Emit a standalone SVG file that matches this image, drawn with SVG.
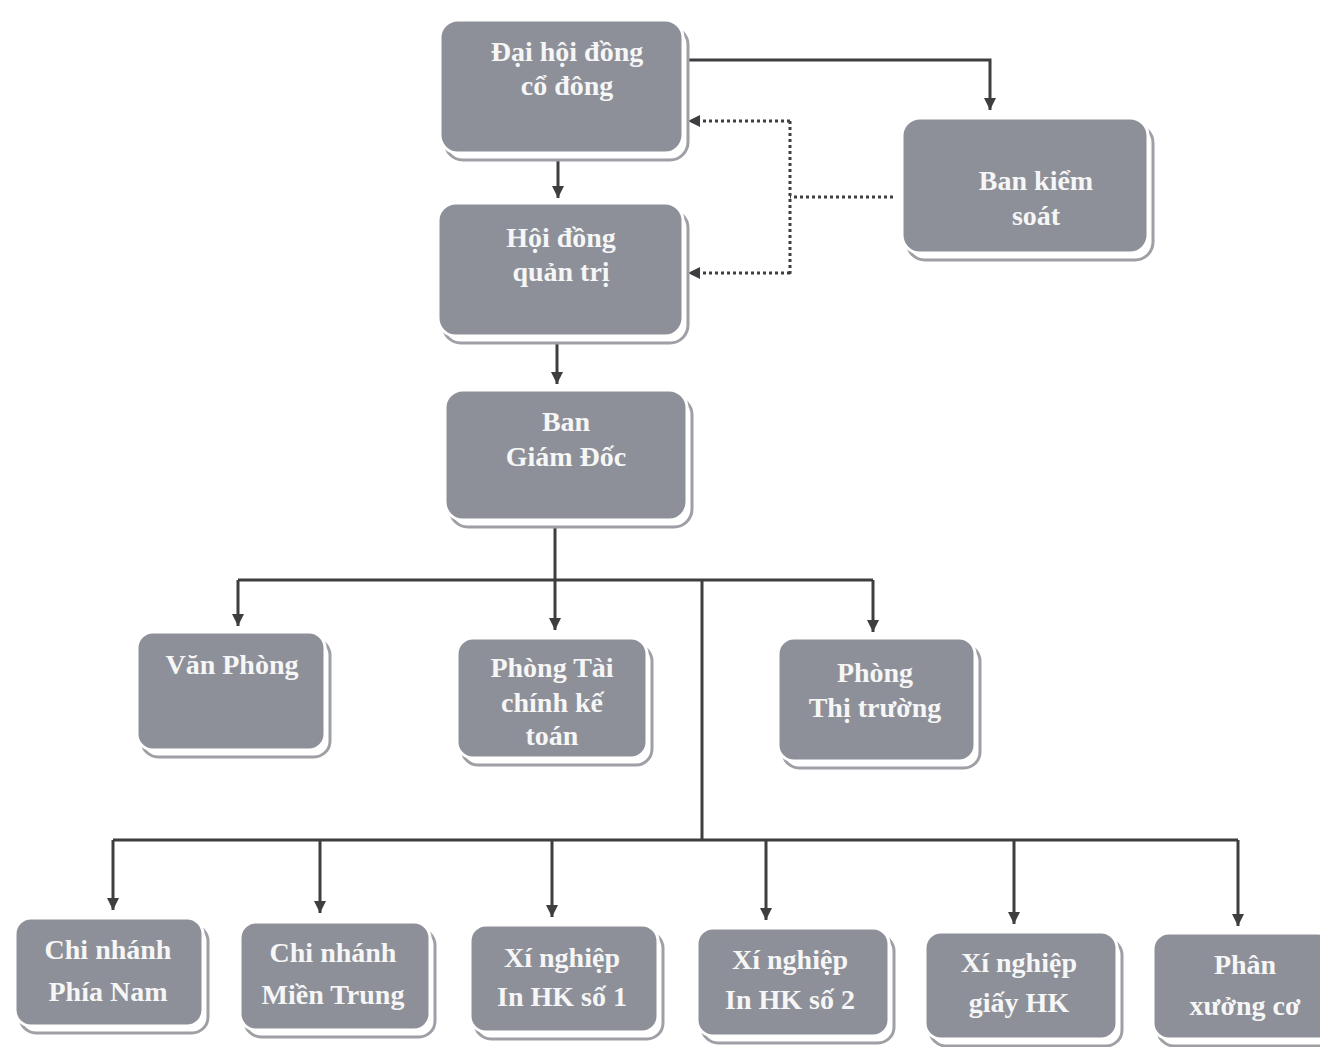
<svg xmlns="http://www.w3.org/2000/svg" width="1320" height="1047" viewBox="0 0 1320 1047">
<style>
.sh{fill:#ffffff;stroke:#9ea0a6;stroke-width:3}
.bx{fill:#8d9098;stroke:#ffffff;stroke-width:3}
.t{font-family:"Liberation Serif","Times New Roman",serif;font-weight:bold;font-size:28px;fill:#f6f6f6;text-anchor:middle}
.ln{fill:none;stroke:#3e3e40;stroke-width:3}
.dt{fill:none;stroke:#3e3e40;stroke-width:3;stroke-dasharray:3 3}
</style>
<defs>
<marker id="ah" markerUnits="userSpaceOnUse" markerWidth="14" markerHeight="14" refX="12" refY="6" orient="auto">
<path d="M0,0 L12,6 L0,12 z" fill="#3e3e40"/>
</marker>
</defs>
<rect width="1320" height="1047" fill="#ffffff"/>
<g id="connectors">
<path class="ln" d="M685,60 H990 V110" marker-end="url(#ah)"/>
<path class="dt" d="M893,197 H790"/>
<path class="dt" d="M790,121 V274"/>
<path class="dt" d="M790,121 H688" marker-end="url(#ah)"/>
<path class="dt" d="M790,273 H688" marker-end="url(#ah)"/>
<path class="ln" d="M558,157 V198" marker-end="url(#ah)"/>
<path class="ln" d="M557,342 V384" marker-end="url(#ah)"/>
<path class="ln" d="M555,527 V580"/>
<path class="ln" d="M238,580 H873"/>
<path class="ln" d="M238,580 V626" marker-end="url(#ah)"/>
<path class="ln" d="M555,580 V630" marker-end="url(#ah)"/>
<path class="ln" d="M873,580 V632" marker-end="url(#ah)"/>
<path class="ln" d="M702,580 V840"/>
<path class="ln" d="M113,840 H1238"/>
<path class="ln" d="M113,840 V910" marker-end="url(#ah)"/>
<path class="ln" d="M320,840 V913" marker-end="url(#ah)"/>
<path class="ln" d="M552,840 V917" marker-end="url(#ah)"/>
<path class="ln" d="M766,840 V920" marker-end="url(#ah)"/>
<path class="ln" d="M1014,840 V924" marker-end="url(#ah)"/>
<path class="ln" d="M1238,840 V926" marker-end="url(#ah)"/>
</g>
<g id="n-dhdcd">
<rect class="sh" x="445" y="27" width="243" height="133" rx="18"/>
<rect class="bx" x="440" y="20" width="243" height="133" rx="18"/>
<text class="t" x="567" y="61">Đại hội đồng</text>
<text class="t" x="567" y="95">cổ đông</text>
</g>
<g id="n-hdqt">
<rect class="sh" x="443" y="210" width="245" height="133" rx="18"/>
<rect class="bx" x="438" y="203" width="245" height="133" rx="18"/>
<text class="t" x="561" y="247">Hội đồng</text>
<text class="t" x="561" y="281">quản trị</text>
</g>
<g id="n-bgd">
<rect class="sh" x="450" y="397" width="242" height="130" rx="18"/>
<rect class="bx" x="445" y="390" width="242" height="130" rx="18"/>
<text class="t" x="566" y="431">Ban</text>
<text class="t" x="566" y="466">Giám Đốc</text>
</g>
<g id="n-bks">
<rect class="sh" x="907" y="125" width="246" height="135" rx="18"/>
<rect class="bx" x="902" y="118" width="246" height="135" rx="18"/>
<text class="t" x="1036" y="190">Ban kiểm</text>
<text class="t" x="1036" y="225">soát</text>
</g>
<g id="n-vp">
<rect class="sh" x="142" y="639" width="188" height="118" rx="16"/>
<rect class="bx" x="137" y="632" width="188" height="118" rx="16"/>
<text class="t" x="232" y="674">Văn Phòng</text>
</g>
<g id="n-ptc">
<rect class="sh" x="462" y="645" width="190" height="120" rx="16"/>
<rect class="bx" x="457" y="638" width="190" height="120" rx="16"/>
<text class="t" x="552" y="677">Phòng Tài</text>
<text class="t" x="552" y="712">chính kế</text>
<text class="t" x="552" y="745">toán</text>
</g>
<g id="n-ptt">
<rect class="sh" x="783" y="645" width="197" height="123" rx="16"/>
<rect class="bx" x="778" y="638" width="197" height="123" rx="16"/>
<text class="t" x="875" y="682">Phòng</text>
<text class="t" x="875" y="717">Thị trường</text>
</g>
<g id="n-cn1">
<rect class="sh" x="20" y="925" width="188" height="108" rx="16"/>
<rect class="bx" x="15" y="918" width="188" height="108" rx="16"/>
<text class="t" x="108" y="959">Chi nhánh</text>
<text class="t" x="108" y="1001">Phía Nam</text>
</g>
<g id="n-cn2">
<rect class="sh" x="245" y="929" width="190" height="108" rx="16"/>
<rect class="bx" x="240" y="922" width="190" height="108" rx="16"/>
<text class="t" x="333" y="962">Chi nhánh</text>
<text class="t" x="333" y="1004">Miền Trung</text>
</g>
<g id="n-xn1">
<rect class="sh" x="475" y="932" width="188" height="107" rx="16"/>
<rect class="bx" x="470" y="925" width="188" height="107" rx="16"/>
<text class="t" x="562" y="967">Xí nghiệp</text>
<text class="t" x="562" y="1006">In HK số 1</text>
</g>
<g id="n-xn2">
<rect class="sh" x="702" y="935" width="192" height="108" rx="16"/>
<rect class="bx" x="697" y="928" width="192" height="108" rx="16"/>
<text class="t" x="790" y="969">Xí nghiệp</text>
<text class="t" x="790" y="1009">In HK số 2</text>
</g>
<g id="n-xng">
<rect class="sh" x="930" y="939" width="192" height="107" rx="16"/>
<rect class="bx" x="925" y="932" width="192" height="107" rx="16"/>
<text class="t" x="1019" y="972">Xí nghiệp</text>
<text class="t" x="1019" y="1012">giấy HK</text>
</g>
<g id="n-px">
<rect class="sh" x="1158" y="940" width="180" height="106" rx="16"/>
<rect class="bx" x="1153" y="933" width="180" height="106" rx="16"/>
<text class="t" x="1245" y="974">Phân</text>
<text class="t" x="1245" y="1015">xưởng cơ</text>
</g>
</svg>
